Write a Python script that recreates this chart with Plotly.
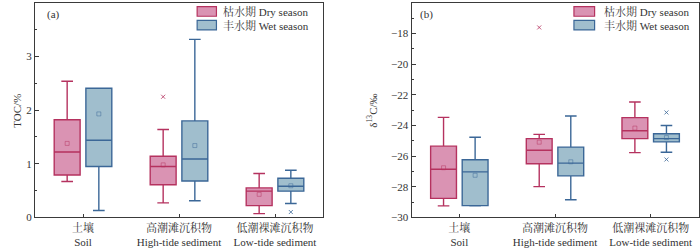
import plotly.graph_objects as go

# ---------------- data ----------------
categories_cn = ["土壤", "高潮滩沉积物", "低潮裸滩沉积物"]
categories_en = ["Soil", "High-tide sediment", "Low-tide sediment"]
series_names = ["枯水期 Dry season", "丰水期 Wet season"]

# TOC (%)  panel (a)
toc_dry_low = [0.67, 0.27, 0.07]
toc_dry_q1 = [0.79, 0.61, 0.22]
toc_dry_med = [1.22, 0.95, 0.49]
toc_dry_q3 = [1.82, 1.14, 0.55]
toc_dry_high = [2.54, 1.64, 0.82]
toc_dry_mean = [1.38, 0.98, 0.43]
toc_dry_outliers = [[], [2.25], []]

toc_wet_low = [0.13, 0.31, 0.26]
toc_wet_q1 = [0.95, 0.68, 0.49]
toc_wet_med = [1.44, 1.09, 0.58]
toc_wet_q3 = [2.41, 1.80, 0.73]
toc_wet_high = [2.41, 3.32, 0.88]
toc_wet_mean = [1.93, 1.34, 0.59]
toc_wet_outliers = [[], [], [0.10]]

# delta13C (‰)  panel (b)
d13_dry_low = [-29.25, -27.99, -25.77]
d13_dry_q1 = [-28.76, -26.50, -24.86]
d13_dry_med = [-26.86, -25.62, -24.34]
d13_dry_q3 = [-25.35, -24.86, -23.49]
d13_dry_high = [-23.47, -24.58, -22.47]
d13_dry_mean = [-26.76, -25.09, -24.17]
d13_dry_outliers = [[], [-17.6], []]

d13_wet_low = [-29.25, -28.85, -25.75]
d13_wet_q1 = [-29.23, -27.29, -25.07]
d13_wet_med = [-27.03, -26.46, -24.86]
d13_wet_q3 = [-26.24, -25.41, -24.54]
d13_wet_high = [-24.77, -23.38, -24.00]
d13_wet_mean = [-27.25, -26.37, -24.79]
d13_wet_outliers = [[], [], [-26.22, -23.15]]

# ---------------- style ----------------
DRY_FILL = "rgba(212,128,166,0.85)"
DRY_LINE = "#b5325f"
WET_FILL = "rgba(150,183,200,0.9)"
WET_LINE = "#3b6797"
FONT = "Liberation Serif, Noto Serif CJK SC, Noto Sans CJK SC, serif"
AX = "#3a3a3a"
OFFSET = 0.165
BOXW = 0.27

fig = go.Figure()

idx = list(range(len(categories_cn)))


def add_panel(xa, ya, stats_dry, stats_wet):
    for stats, off, fill, line in ((stats_dry, -OFFSET, DRY_FILL, DRY_LINE),
                                   (stats_wet, OFFSET, WET_FILL, WET_LINE)):
        low, q1, med, q3, high, mean, outl = stats
        pos = [i + off for i in idx]
        fig.add_trace(go.Box(
            x=pos, q1=q1, median=med, q3=q3, lowerfence=low, upperfence=high,
            width=BOXW, whiskerwidth=0.45, fillcolor=fill,
            line=dict(color=line, width=1.4), boxpoints=False,
            xaxis=xa, yaxis=ya, showlegend=False, hoverinfo="skip"))
        fig.add_trace(go.Scatter(
            x=pos, y=mean, mode="markers", xaxis=xa, yaxis=ya,
            marker=dict(symbol="square-open", size=4, color=line,
                        line=dict(width=0.8), opacity=0.6),
            showlegend=False, hoverinfo="skip"))
        ox, oy = [], []
        for p, vals in zip(pos, outl):
            for v in vals:
                ox.append(p)
                oy.append(v)
        if ox:
            fig.add_trace(go.Scatter(
                x=ox, y=oy, mode="markers", xaxis=xa, yaxis=ya,
                marker=dict(symbol="x-thin-open", size=4, color=line,
                            line=dict(width=1, color=line), opacity=0.8),
                showlegend=False, hoverinfo="skip"))


add_panel("x", "y",
          (toc_dry_low, toc_dry_q1, toc_dry_med, toc_dry_q3, toc_dry_high, toc_dry_mean, toc_dry_outliers),
          (toc_wet_low, toc_wet_q1, toc_wet_med, toc_wet_q3, toc_wet_high, toc_wet_mean, toc_wet_outliers))
add_panel("x2", "y2",
          (d13_dry_low, d13_dry_q1, d13_dry_med, d13_dry_q3, d13_dry_high, d13_dry_mean, d13_dry_outliers),
          (d13_wet_low, d13_wet_q1, d13_wet_med, d13_wet_q3, d13_wet_high, d13_wet_mean, d13_wet_outliers))

ticktext = [f"{c}<br>{e}" for c, e in zip(categories_cn, categories_en)]
common_x = dict(range=[-0.5, 2.5], tickvals=idx, ticktext=ticktext, ticks="inside",
                ticklen=3, tickcolor=AX, showline=True, linecolor=AX, linewidth=1,
                mirror=True, showgrid=False, zeroline=False,
                tickfont=dict(family=FONT, size=11, color="#333"))
common_y = dict(ticks="inside", ticklen=4, tickcolor=AX, showline=True, linecolor=AX,
                linewidth=1, mirror=True, showgrid=False, zeroline=False,
                tickfont=dict(family=FONT, size=11, color="#333"))

fig.update_layout(
    width=700, height=252, margin=dict(l=0, r=0, t=0, b=0),
    paper_bgcolor="white", plot_bgcolor="white", showlegend=False,
    hovermode=False,
    font=dict(family=FONT, size=11, color="#333"),
    xaxis=dict(domain=[35 / 700, 323 / 700], anchor="y", **common_x),
    yaxis=dict(domain=[1 - 222.7 / 252, 1 - 3 / 252], anchor="x", range=[0, 4],
               dtick=1, minor=dict(dtick=0.5, ticks="inside", ticklen=2, tickcolor=AX),
               **common_y),
    xaxis2=dict(domain=[411.5 / 700, 698.5 / 700], anchor="y2", **common_x),
    yaxis2=dict(domain=[1 - 222.7 / 252, 1 - 3 / 252], anchor="x2", range=[-30, -16],
                dtick=2, minor=dict(dtick=1, ticks="inside", ticklen=2, tickcolor=AX),
                **common_y),
)

annotations = [
    dict(text="TOC/%", x=9 / 700, y=0.55, xref="paper", yref="paper", textangle=-90,
         showarrow=False, font=dict(family=FONT, size=11, color="#333")),
    dict(text="δ<sup>13</sup>C/‰", x=372 / 700, y=0.55, xref="paper", yref="paper",
         textangle=-90, showarrow=False, font=dict(family=FONT, size=11, color="#333")),
    dict(text="(a)", x=0.033, y=0.945, xref="x domain", yref="y domain", showarrow=False,
         xanchor="left", yanchor="middle", font=dict(family=FONT, size=11, color="#333")),
    dict(text="(b)", x=0.024, y=0.945, xref="x2 domain", yref="y2 domain", showarrow=False,
         xanchor="left", yanchor="middle", font=dict(family=FONT, size=11, color="#333")),
]
shapes = []
for xa, ya, sx0, sx1, tx in (("x", "y", 0.563, 0.63, 0.645), ("x2", "y2", 0.566, 0.638, 0.665)):
    for k, (name, fill, line) in enumerate(zip(series_names, (DRY_FILL, WET_FILL), (DRY_LINE, WET_LINE))):
        ytop = 0.983 - k * 0.064
        shapes.append(dict(type="rect", xref=f"{xa} domain", yref=f"{ya} domain",
                           x0=sx0, x1=sx1, y0=ytop - 0.045, y1=ytop,
                           fillcolor=fill, line=dict(color=line, width=1.2)))
        annotations.append(dict(text=name, x=tx, y=ytop - 0.0225,
                                xref=f"{xa} domain", yref=f"{ya} domain",
                                xanchor="left", yanchor="middle", showarrow=False,
                                font=dict(family=FONT, size=11, color="#333")))
fig.update_layout(annotations=annotations, shapes=shapes)

fig.write_html("out.html", config={"displayModeBar": False, "staticPlot": True},
               post_script="document.body.style.margin='0';")
